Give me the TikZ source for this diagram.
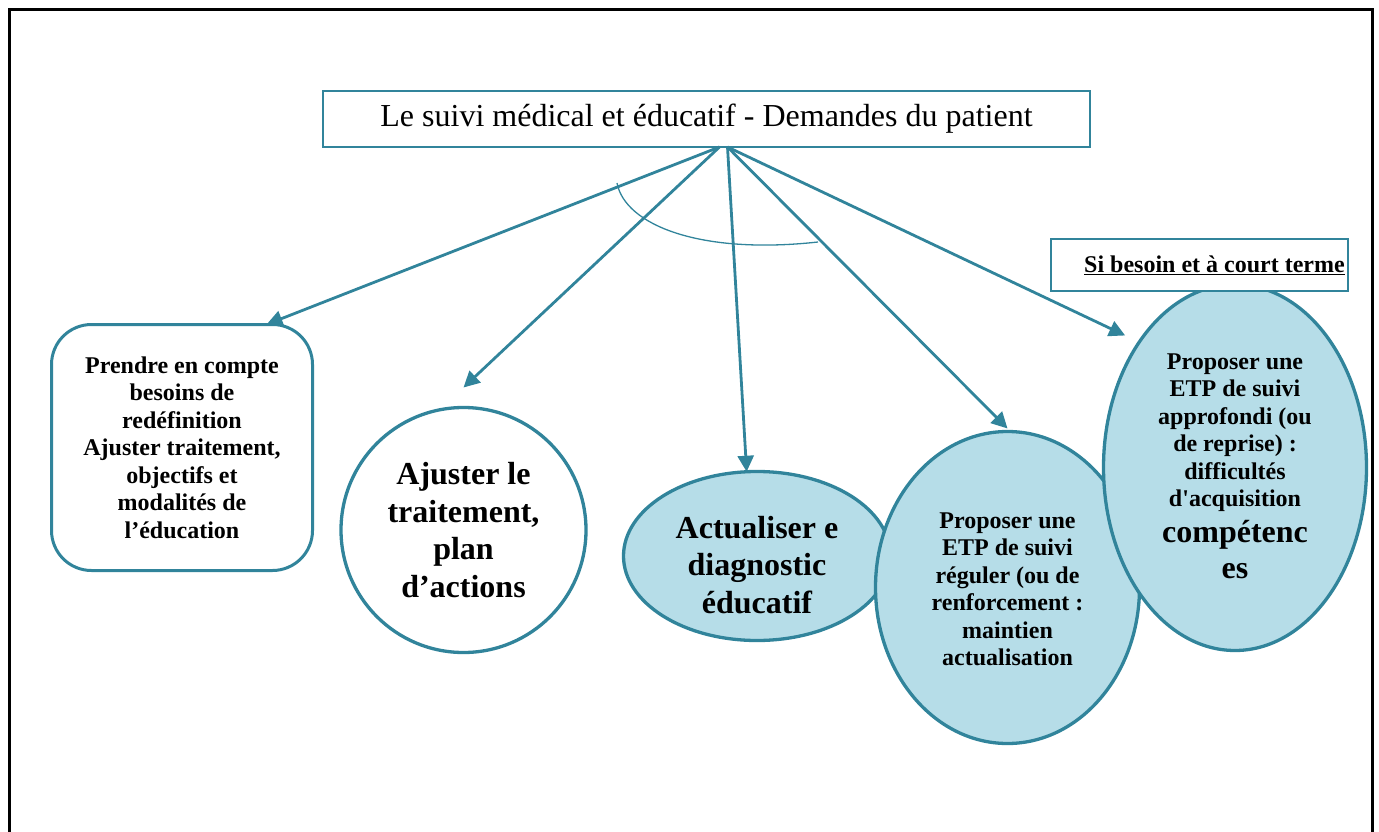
\documentclass[tikz,border=0pt]{standalone}
\usepackage{fontspec}
\setmainfont{Liberation Serif}[Ligatures=TeXOff]
\usetikzlibrary{shapes.geometric,arrows.meta}
\definecolor{teal5}{HTML}{31849B}
\definecolor{lblue}{HTML}{B6DDE8}
\begin{document}
\begin{tikzpicture}[x=1pt,y=-1pt,
  every node/.style={inner sep=0pt,outer sep=0pt},
  txtA/.style={font=\bfseries\fontsize{24}{27.5}\selectfont,align=center},
  txtB/.style={font=\bfseries\fontsize{32}{37.5}\selectfont,align=center},
  shapeline/.style={draw=teal5,line width=3.3pt},
  link/.style={draw=teal5,line width=2.8pt,-{Triangle[length=16pt,width=16pt]}},
  thinarc/.style={draw=teal5,line width=1.3pt},
  frameline/.style={draw=black,line width=3pt}]
\useasboundingbox (0,0) rectangle (1379,832);
% outer frame
\draw[frameline] (9,832) -- (9,9.5) -- (1372,9.5) -- (1372,832);
% title
\node[draw=teal5,line width=2.6pt,fill=white,minimum width=767pt,minimum height=56pt,
      font=\fontsize{32}{36}\selectfont] (top) at (706.5,119) {Le suivi médical et éducatif - Demandes du patient};
% left rounded box
\node[shapeline,line width=3pt,fill=white,rounded corners=40pt,minimum width=261pt,minimum height=246pt,
      txtA] (box1) at (182,447.5)
  {Prendre en compte\\besoins de\\redéfinition\\Ajuster traitement,\\objectifs et\\modalités de\\l’éducation};
% circle
\node[shapeline,fill=white,circle,minimum size=245pt,txtB] (circ) at (463.5,530)
  {Ajuster le\\traitement,\\plan\\d’actions};
% ellipse 3
\node[shapeline,fill=lblue,ellipse,minimum width=267pt,minimum height=169pt,
      label={[txtB,name=ell3t,yshift=-9pt]center:{Actualiser e\\diagnostic\\éducatif}}] (ell3) at (757,556) {};
% ellipse 4
\node[shapeline,fill=lblue,ellipse,minimum width=264pt,minimum height=312pt,
      label={[txtA,name=ell4t,yshift=-2pt]center:{Proposer une\\ETP de suivi\\réguler (ou de\\renforcement :\\maintien\\actualisation}}] (ell4) at (1007.5,587.5) {};
% ellipse 5
\node[shapeline,fill=lblue,ellipse,minimum width=263pt,minimum height=366pt,
      label={[txtA,name=ell5t,yshift=1.5pt]center:{Proposer une\\ETP de suivi\\approfondi (ou\\de reprise) :\\difficultés\\d'acquisition\\[8pt]\fontsize{32}{37}\selectfont compétenc\\[8.5pt]\fontsize{32}{37}\selectfont es}}] (ell5) at (1235,467.5) {};
% note box
\node[draw=teal5,line width=1.8pt,fill=white,minimum width=297pt,minimum height=52pt,
      font=\bfseries\fontsize{24}{27}\selectfont] (note) at (1199.5,265)
  {\hspace*{30pt}\raisebox{-6pt}{\underline{Si besoin et à court terme}}};
% origins
\coordinate (o1) at ([xshift=13pt]top.south);
\coordinate (o2) at ([xshift=21pt]top.south);
% arrows
\draw[link] (o1) -- ([xshift=-46pt]box1.north east);
\draw[link] (o1) -- ([yshift=20pt]circ.north);
\draw[link] (o2) -- (ell3.97);
\draw[link] (o2) -- ([yshift=3pt]ell4.north);
\draw[link] (o2) -- ([xshift=-10pt,yshift=13pt]ell5.130);
% arc
\draw[thinarc] (617,183) .. controls (625,225) and (700,255) .. (818,242);
\end{tikzpicture}
\end{document}
